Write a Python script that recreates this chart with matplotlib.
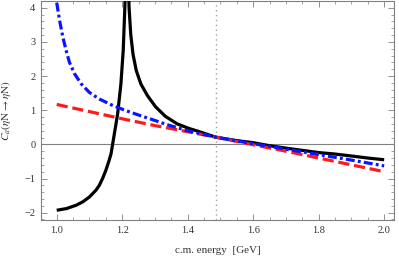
import matplotlib
matplotlib.use("Agg")
import matplotlib.pyplot as plt
from matplotlib.ticker import MultipleLocator, FuncFormatter

plt.rcParams['font.family'] = ['Liberation Serif', 'DejaVu Serif']
plt.rcParams['mathtext.fontset'] = 'stix'

# Black solid curve (with pole near 1.214 GeV)
black_x = [1.00, 1.03, 1.06, 1.08, 1.10, 1.12, 1.13, 1.14, 1.15, 1.16, 1.166, 1.176,
           1.186, 1.196, 1.203, 1.208, 1.211, 1.218, 1.221, 1.226, 1.233, 1.243,
           1.257, 1.277, 1.302, 1.332, 1.368, 1.403, 1.433, 1.486, 1.55, 1.60,
           1.645, 1.70, 1.80, 1.847, 1.90, 1.95, 2.00]
black_y = [-1.93, -1.88, -1.78, -1.68, -1.54, -1.34, -1.20, -1.00, -0.76, -0.47, -0.27, 0.31,
           0.89, 1.77, 2.74, 4.00, 5.00, 5.00, 4.00, 3.23, 2.64, 2.16,
           1.77, 1.43, 1.10, 0.82, 0.60, 0.47, 0.38, 0.21, 0.11, 0.05,
           -0.03, -0.11, -0.24, -0.28, -0.34, -0.40, -0.45]

# Blue dash-dot curve
blue_x = [1.00, 1.009, 1.019, 1.029, 1.039, 1.055, 1.075, 1.10, 1.13, 1.171, 1.211,
          1.25, 1.30, 1.336, 1.40, 1.45, 1.486, 1.55, 1.60, 1.70, 1.80, 1.90, 2.00]
blue_y = [4.15, 3.62, 3.13, 2.74, 2.40, 2.06, 1.77, 1.52, 1.33, 1.14, 0.99,
          0.86, 0.70, 0.58, 0.40, 0.29, 0.21, 0.10, 0.02, -0.14, -0.30, -0.46, -0.63]

# Red dashed curve
red_x = [1.00, 1.10, 1.20, 1.30, 1.40, 1.486, 1.60, 1.70, 1.80, 1.90, 2.00]
red_y = [1.17, 0.96, 0.75, 0.55, 0.37, 0.21, -0.01, -0.20, -0.40, -0.60, -0.80]

threshold = 1.486

fig = plt.figure(figsize=(3.99, 2.61), dpi=100)
ax = fig.add_axes([41/399, 1 - 220/261, (394 - 41)/399, 219/261])

ax.axhline(0, color='#808080', lw=0.8, zorder=1)
ax.axvline(threshold, color='#a0a0a0', lw=1.0, ls=(0, (1, 2.5)), zorder=1)

ax.plot(black_x, black_y, color='black', lw=2.3, solid_capstyle='butt', zorder=3)
ax.plot(red_x, red_y, color='#ff1a1a', lw=2.3, ls=(0, (3.5, 1.5)), zorder=4)
ax.plot(blue_x, blue_y, color='#0a14ff', lw=2.3, ls=(0, (2.8, 1.0, 0.9, 1.0)), zorder=5)

ax.set_xlim(0.952, 2.03)
ax.set_ylim(-2.215, 4.2)

ax.xaxis.set_major_locator(MultipleLocator(0.2))
ax.xaxis.set_minor_locator(MultipleLocator(0.05))
ax.yaxis.set_major_locator(MultipleLocator(1))
ax.yaxis.set_minor_locator(MultipleLocator(0.2))
ax.xaxis.set_major_formatter(FuncFormatter(lambda v, p: f"{v:.1f}"))
ax.yaxis.set_major_formatter(FuncFormatter(lambda v, p: f"{int(round(v))}".replace('-', '\u2212')))

ax.tick_params(which='both', direction='in', top=True, right=True, color='#808080',
               labelsize=7.5, labelcolor='#333333', pad=4)
ax.tick_params(which='major', length=4, width=0.6)
ax.tick_params(which='minor', length=2, width=0.5)
for s in ax.spines.values():
    s.set_color('#808080')
    s.set_linewidth(0.8)

ax.set_xlabel('c.m. energy  [GeV]', fontsize=8, color='#333333', labelpad=8)
ax.set_ylabel(r'$C_a(\eta\mathrm{N}\rightarrow\eta\mathrm{N})$', fontsize=8, color='#333333', labelpad=8)

fig.savefig('out.png', dpi=100)
